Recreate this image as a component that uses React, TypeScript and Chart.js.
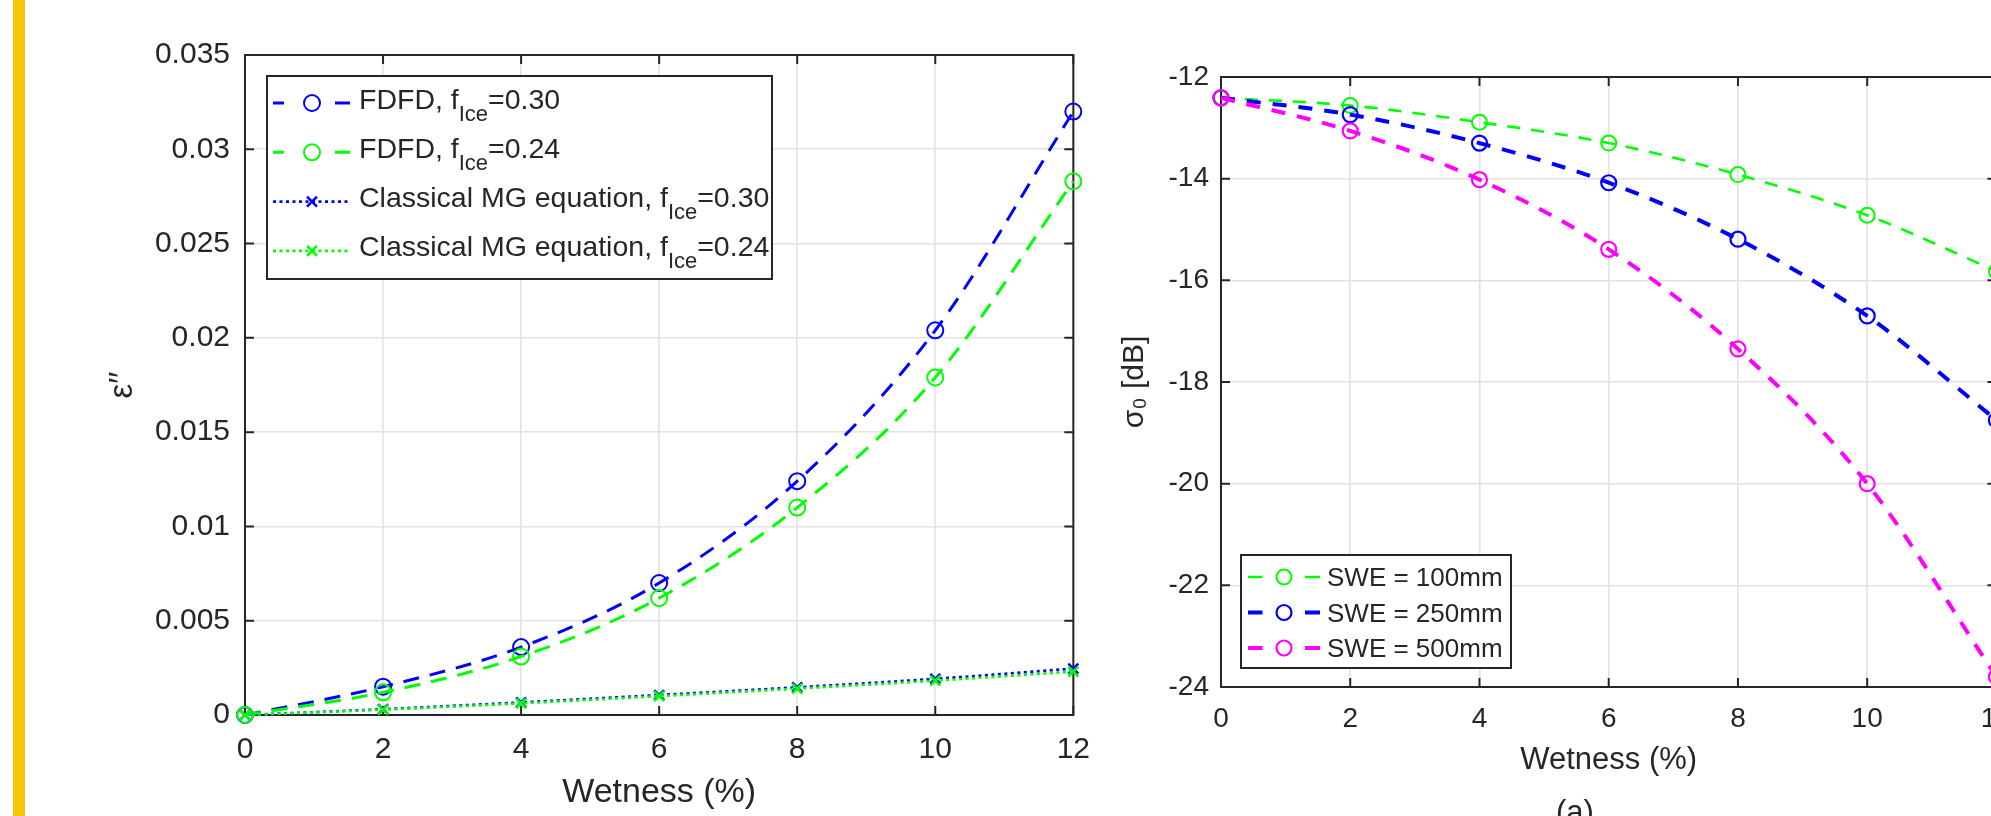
import React, { useEffect, useRef } from "react";
import { Chart, registerables } from "chart.js";

Chart.register(...registerables);

const FONT = "'Liberation Sans', Arial, Helvetica, sans-serif";
const INK = "#262626";
const GRID = "#e2e2e2";
const BLUE = "#0000ff";
const GREEN = "#00ff00";
const MAGENTA = "#ff00ff";

// ---------- shared x data ----------
const WETNESS = [0, 2, 4, 6, 8, 10, 12];
const X_TICKS = [0, 2, 4, 6, 8, 10, 12];
const X_TICK_LABELS = ["0", "2", "4", "6", "8", "10", "12"];

// ---------- left chart (epsilon'') ----------
const LEFT_Y_TICKS = [0, 0.005, 0.01, 0.015, 0.02, 0.025, 0.03, 0.035];
const LEFT_Y_TICK_LABELS = ["0", "0.005", "0.01", "0.015", "0.02", "0.025", "0.03", "0.035"];
const FDFD_030 = [0, 0.0015, 0.0036, 0.007, 0.0124, 0.0204, 0.032];
const FDFD_024 = [0, 0.0012, 0.0031, 0.0062, 0.011, 0.0179, 0.0283];
const MG_030 = [0, 0.00031, 0.00067, 0.00106, 0.00147, 0.00192, 0.00246];
const MG_024 = [0, 0.00028, 0.00062, 0.001, 0.0014, 0.00182, 0.0023];
const LEFT_LABELS = [
  "FDFD, f_{Ice}=0.30",
  "FDFD, f_{Ice}=0.24",
  "Classical MG equation, f_{Ice}=0.30",
  "Classical MG equation, f_{Ice}=0.24",
];

// ---------- right chart (sigma_0) ----------
const RIGHT_Y_TICKS = [-24, -22, -20, -18, -16, -14, -12];
const RIGHT_Y_TICK_LABELS = ["-24", "-22", "-20", "-18", "-16", "-14", "-12"];
const SWE_100 = [-12.41, -12.56, -12.89, -13.3, -13.92, -14.72, -15.82];
const SWE_250 = [-12.41, -12.74, -13.3, -14.08, -15.19, -16.7, -18.75];
const SWE_500 = [-12.41, -13.06, -14.02, -15.39, -17.35, -20.0, -23.8];
const RIGHT_LABELS = ["SWE = 100mm", "SWE = 250mm", "SWE = 500mm"];

const pts = (ys: number[]) => WETNESS.map((x, i) => ({ x, y: ys[i] }));

// ---------- plugins ----------
const framePlugin = {
  id: "matlabFrame",
  beforeDatasetsDraw(chart: any, _a: any, o: any) {
    const { ctx, chartArea: a, scales } = chart;
    const len = o?.tickLength ?? 9;
    ctx.save();
    ctx.strokeStyle = INK;
    ctx.lineWidth = o?.lineWidth ?? 2;
    ctx.setLineDash([]);
    ctx.beginPath();
    for (const t of scales.x.ticks) {
      const px = scales.x.getPixelForValue(t.value);
      ctx.moveTo(px, a.bottom);
      ctx.lineTo(px, a.bottom - len);
      ctx.moveTo(px, a.top);
      ctx.lineTo(px, a.top + len);
    }
    for (const t of scales.y.ticks) {
      const py = scales.y.getPixelForValue(t.value);
      ctx.moveTo(a.left, py);
      ctx.lineTo(a.left + len, py);
      ctx.moveTo(a.right, py);
      ctx.lineTo(a.right - len, py);
    }
    ctx.stroke();
    ctx.strokeRect(a.left, a.top, a.right - a.left, a.bottom - a.top);
    ctx.restore();
  },
};

function drawMarker(ctx: CanvasRenderingContext2D, style: string, x: number, y: number, r: number, color: string, bw: number) {
  ctx.save();
  ctx.setLineDash([]);
  ctx.strokeStyle = color;
  ctx.lineWidth = bw;
  ctx.beginPath();
  if (style === "circle") {
    ctx.arc(x, y, r, 0, Math.PI * 2);
  } else {
    const d = r * Math.SQRT1_2;
    ctx.moveTo(x - d, y - d);
    ctx.lineTo(x + d, y + d);
    ctx.moveTo(x + d, y - d);
    ctx.lineTo(x - d, y + d);
  }
  ctx.stroke();
  ctx.restore();
}

function drawRichText(ctx: CanvasRenderingContext2D, text: string, x: number, baseline: number, o: any) {
  const parts = text.split(/(_\{[^}]*\})/);
  let cx = x;
  ctx.fillStyle = INK;
  ctx.textBaseline = "alphabetic";
  ctx.textAlign = "left";
  for (const p of parts) {
    if (!p) continue;
    const m = p.match(/^_\{([^}]*)\}$/);
    if (m) {
      ctx.font = `${o.subSize}px ${FONT}`;
      ctx.fillText(m[1], cx, baseline + o.subShift);
      cx += ctx.measureText(m[1]).width;
    } else {
      ctx.font = `${o.fontSize}px ${FONT}`;
      ctx.fillText(p, cx, baseline);
      cx += ctx.measureText(p).width;
    }
  }
}

const legendPlugin = {
  id: "richLegend",
  afterDatasetsDraw(chart: any, _a: any, o: any) {
    if (!o || !o.show) return;
    const { ctx, chartArea } = chart;
    const left = chartArea.left + o.offsetX;
    const top = o.fromBottom ? chartArea.bottom - o.offsetY - o.height : chartArea.top + o.offsetY;
    ctx.save();
    ctx.fillStyle = "#ffffff";
    ctx.fillRect(left, top, o.width, o.height);
    ctx.lineWidth = 2;
    ctx.strokeStyle = INK;
    ctx.setLineDash([]);
    ctx.strokeRect(left, top, o.width, o.height);
    chart.data.datasets.forEach((ds: any, i: number) => {
      const y = top + o.firstRow + i * o.rowGap;
      const x0 = left + o.sampleX;
      const dash = ds.borderDash || [];
      ctx.save();
      ctx.strokeStyle = ds.borderColor;
      ctx.lineWidth = ds.borderWidth;
      ctx.setLineDash(dash);
      ctx.beginPath();
      if ((dash[0] ?? 0) < 6) {
        ctx.moveTo(x0, y);
        ctx.lineTo(x0 + o.sampleLen, y);
      } else {
        ctx.setLineDash([]);
        ctx.moveTo(x0 + o.seg1[0], y);
        ctx.lineTo(x0 + o.seg1[1], y);
        ctx.moveTo(x0 + o.seg2[0], y);
        ctx.lineTo(x0 + o.seg2[1], y);
      }
      ctx.stroke();
      ctx.restore();
      drawMarker(ctx, ds.pointStyle, x0 + o.markerX, y, ds.pointRadius, ds.borderColor, ds.pointBorderWidth);
      drawRichText(ctx, ds.label, left + o.textX, y + o.baselineShift, o);
    });
    ctx.restore();
  },
};

// ---------- configs ----------
function lineDs(label: string, ys: number[], color: string, width: number, dash: number[], style: string, r: number, pbw: number, order: number) {
  return {
    label,
    data: pts(ys),
    borderColor: color,
    borderWidth: width,
    borderDash: dash,
    pointStyle: style,
    pointRadius: r,
    pointHoverRadius: r,
    pointBorderWidth: pbw,
    pointBorderColor: color,
    pointBackgroundColor: "rgba(0,0,0,0)",
    cubicInterpolationMode: "monotone",
    fill: false,
    clip: false,
    order,
  };
}

function axis(ticksArr: number[], labels: string[], min: number, max: number, fit: (s: any) => void, tickSize: number, tickPad: number, title: any) {
  return {
    type: "linear",
    min,
    max,
    afterBuildTicks: (s: any) => {
      s.ticks = ticksArr.map((v) => ({ value: v }));
    },
    afterFit: fit,
    grid: { color: GRID, lineWidth: 1.6, drawTicks: false },
    border: { display: false },
    ticks: {
      autoSkip: false,
      maxRotation: 0,
      padding: tickPad,
      color: INK,
      font: { family: FONT, size: tickSize, lineHeight: 1 },
      callback: (v: number) => {
        const i = ticksArr.indexOf(v);
        return i >= 0 ? labels[i] : "";
      },
    },
    title,
  };
}

const LEFT_W = 1080;
const RIGHT_W = 930;
const H = 816;

function leftConfig(): any {
  return {
    type: "line",
    data: {
      datasets: [
        lineDs(LEFT_LABELS[0], FDFD_030, BLUE, 3, [16, 11], "circle", 8, 2, 4),
        lineDs(LEFT_LABELS[1], FDFD_024, GREEN, 3, [16, 11], "circle", 8, 2, 3),
        lineDs(LEFT_LABELS[2], MG_030, BLUE, 2.6, [3, 3.5], "crossRot", 7, 2.6, 2),
        lineDs(LEFT_LABELS[3], MG_024, GREEN, 2.6, [3, 3.5], "crossRot", 7, 2.6, 1),
      ],
    },
    options: {
      responsive: false,
      animation: false,
      devicePixelRatio: 1,
      layout: { padding: { top: 55, right: 19, left: 0, bottom: 0 } },
      plugins: {
        legend: { display: false },
        tooltip: { enabled: false },
        richLegend: {
          show: true,
          offsetX: 22,
          offsetY: 21,
          fromBottom: false,
          width: 505,
          height: 203,
          firstRow: 27,
          rowGap: 49.3,
          sampleX: 6,
          sampleLen: 76,
          seg1: [0, 11],
          seg2: [62, 77],
          markerX: 39,
          textX: 92,
          fontSize: 28.5,
          subSize: 22,
          subShift: 12,
          baselineShift: 5.5,
        },
      },
      scales: {
        x: axis(X_TICKS, X_TICK_LABELS, 0, 12, (s: any) => { s.height = 101; }, 30, 20, {
          display: true,
          text: "Wetness (%)",
          color: INK,
          font: { family: FONT, size: 34, lineHeight: 1 },
          padding: { top: 0, bottom: 6 },
        }),
        y: axis(LEFT_Y_TICKS, LEFT_Y_TICK_LABELS, 0, 0.035, (s: any) => { s.width = 215; }, 30, 15, {
          display: true,
          text: "ε′′",
          color: INK,
          font: { family: FONT, size: 33, lineHeight: 1 },
          padding: { top: 76, bottom: 0 },
        }),
      },
    },
    plugins: [framePlugin, legendPlugin],
  };
}

function rightConfig(): any {
  return {
    type: "line",
    data: {
      datasets: [
        lineDs(RIGHT_LABELS[0], SWE_100, GREEN, 2.6, [13, 11], "circle", 7.5, 2, 3),
        lineDs(RIGHT_LABELS[1], SWE_250, BLUE, 4, [14, 12], "circle", 7.5, 2.2, 2),
        lineDs(RIGHT_LABELS[2], SWE_500, MAGENTA, 4, [14, 12], "circle", 7.5, 2.2, 1),
      ],
    },
    options: {
      responsive: false,
      animation: false,
      devicePixelRatio: 1,
      layout: { padding: { top: 77, right: 29, left: 0, bottom: 0 } },
      plugins: {
        legend: { display: false },
        tooltip: { enabled: false },
        richLegend: {
          show: true,
          offsetX: 20,
          offsetY: 19,
          fromBottom: true,
          width: 270,
          height: 113,
          firstRow: 22,
          rowGap: 35.5,
          sampleX: 7,
          sampleLen: 72,
          seg1: [0, 14.5],
          seg2: [57, 72],
          markerX: 36,
          textX: 86,
          fontSize: 26,
          subSize: 19,
          subShift: 9,
          baselineShift: 9.3,
        },
      },
      scales: {
        x: axis(X_TICKS, X_TICK_LABELS, 0, 12, (s: any) => { s.height = 129; }, 28, 18, {
          display: true,
          text: "Wetness (%)",
          color: INK,
          font: { family: FONT, size: 31, lineHeight: 1 },
          padding: { top: 0, bottom: 40 },
        }),
        y: axis(RIGHT_Y_TICKS, RIGHT_Y_TICK_LABELS, -24, -12, (s: any) => { s.width = 121; }, 28, 12, {
          display: true,
          text: "σ₀ [dB]",
          color: INK,
          font: { family: FONT, size: 30, lineHeight: 1 },
          padding: { top: 20, bottom: 0 },
        }),
      },
    },
    plugins: [framePlugin, legendPlugin],
  };
}

function ChartCanvas({ make, width, height, left }: { make: () => any; width: number; height: number; left: number }) {
  const ref = useRef<HTMLCanvasElement>(null);
  useEffect(() => {
    if (!ref.current) return;
    const chart = new Chart(ref.current, make());
    return () => chart.destroy();
  }, [make]);
  return (
    <canvas
      ref={ref}
      width={width}
      height={height}
      style={{ position: "absolute", left, top: 0, width, height }}
    />
  );
}

export default function App() {
  return (
    <div
      style={{
        position: "absolute",
        left: 0,
        top: 0,
        width: 1991,
        height: H,
        overflow: "hidden",
        background: "#ffffff",
        fontFamily: FONT,
      }}
    >
      <div style={{ position: "absolute", left: 13, top: 0, width: 12, height: H, background: "#f9c700" }} />
      <ChartCanvas make={leftConfig} width={LEFT_W} height={H} left={30} />
      <ChartCanvas make={rightConfig} width={RIGHT_W} height={H} left={1100} />
      <div
        style={{
          position: "absolute",
          left: 1525,
          width: 100,
          top: 796,
          textAlign: "center",
          fontSize: 31,
          lineHeight: "31px",
          color: INK,
        }}
      >
        (a)
      </div>
    </div>
  );
}
